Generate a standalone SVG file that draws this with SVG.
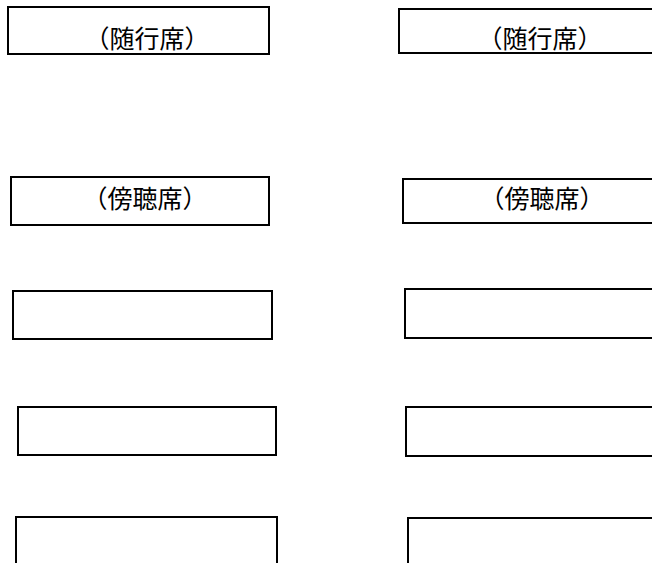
<svg xmlns="http://www.w3.org/2000/svg" width="652" height="563" viewBox="0 0 652 563">
<style>
.box{fill:#fff;stroke:#000;stroke-width:2}
.lbl{font-family:"Noto Sans CJK JP","Noto Sans CJK SC",sans-serif;font-size:25px;fill:#000;text-anchor:middle}
</style>
<rect width="652" height="563" fill="#fff"/>
<g id="attendant-left"><rect class="box" x="8" y="7" width="261" height="47"/><text class="lbl" x="147" y="48">（随行席）</text></g>
<g id="attendant-right"><rect class="box" x="399" y="9" width="260" height="44"/><text class="lbl" x="540" y="48">（随行席）</text></g>
<g id="gallery-left"><rect class="box" x="11" y="177" width="258" height="48"/><text class="lbl" x="145" y="208">（傍聴席）</text></g>
<g id="gallery-right"><rect class="box" x="403" y="179" width="256" height="44"/><text class="lbl" x="542" y="208">（傍聴席）</text></g>
<g id="seat-left-1"><rect class="box" x="13" y="291" width="259" height="48"/></g>
<g id="seat-right-1"><rect class="box" x="405" y="289" width="254" height="49"/></g>
<g id="seat-left-2"><rect class="box" x="18" y="407" width="258" height="48"/></g>
<g id="seat-right-2"><rect class="box" x="406" y="407" width="253" height="49"/></g>
<g id="seat-left-3"><rect class="box" x="16" y="517" width="261" height="56"/></g>
<g id="seat-right-3"><rect class="box" x="408" y="518" width="251" height="55"/></g>
<g id="connectors"></g>
</svg>
